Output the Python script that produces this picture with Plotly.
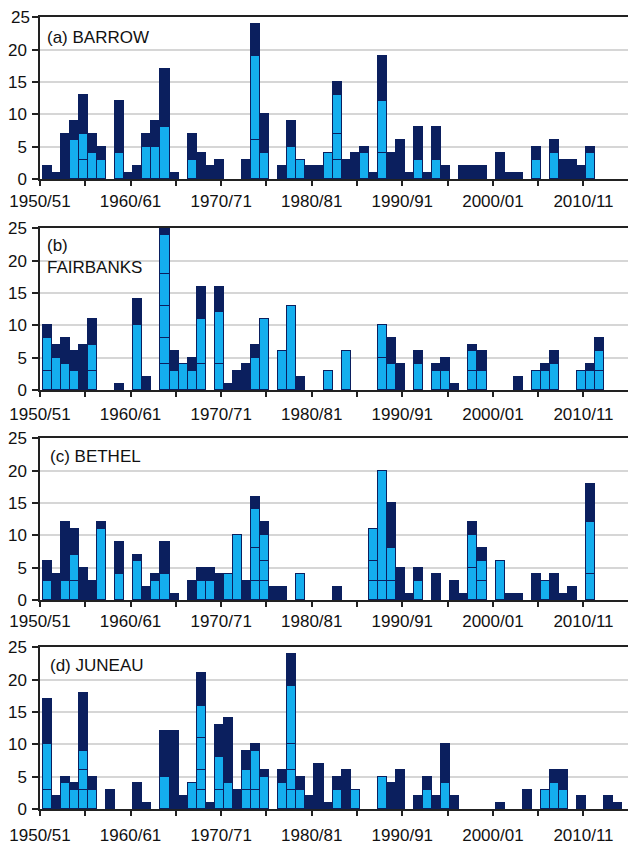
import plotly.graph_objects as go

years = list(range(1950, 2016))

# ---- data: total events per season, and light-blue sub-segments (stacked from bottom)
barrow_total = [2, 1, 7, 9, 13, 7, 5, 0, 12, 1,
                2, 7, 9, 17, 1, 0, 7, 4, 2, 3,
                0, 0, 3, 24, 10, 0, 2, 9, 3, 2,
                2, 4, 15, 3, 4, 5, 1, 19, 4, 6,
                1, 8, 1, 8, 2, 0, 2, 2, 2, 0,
                4, 1, 1, 0, 5, 0, 6, 3, 3, 2,
                5, 0, 0, 0, 0, 0]
barrow_light = {1953: [6], 1954: [3, 4], 1955: [4], 1956: [3], 1958: [4], 1961: [5],
                1962: [5], 1963: [8], 1966: [3], 1973: [6, 13], 1974: [4], 1977: [5],
                1978: [3], 1981: [4], 1982: [3, 4, 6], 1985: [4], 1987: [4, 8],
                1991: [3], 1993: [3], 2004: [3], 2006: [4], 2010: [4]}

fairbanks_total = [10, 7, 8, 6, 7, 11, 0, 0, 1, 0,
                   14, 2, 0, 25, 6, 4, 5, 16, 0, 16,
                   1, 3, 4, 7, 11, 0, 6, 13, 2, 0,
                   0, 3, 0, 6, 0, 0, 0, 10, 8, 4,
                   0, 6, 0, 4, 5, 1, 0, 7, 6, 0,
                   0, 0, 2, 0, 3, 4, 6, 0, 0, 3,
                   4, 8, 0, 0, 0, 0]
fairbanks_light = {1950: [3, 5], 1951: [5], 1952: [4], 1953: [3], 1955: [3, 4], 1960: [10],
                   1963: [4, 4, 5, 5, 6], 1964: [3], 1965: [4], 1966: [3], 1967: [4, 7],
                   1969: [4, 8], 1973: [5], 1974: [11], 1976: [6], 1977: [13], 1981: [3],
                   1983: [6], 1987: [5, 5], 1988: [4], 1991: [4], 1993: [3], 1994: [3],
                   1997: [3, 3], 1998: [3], 2004: [3], 2005: [3], 2006: [4], 2009: [3],
                   2010: [3], 2011: [3, 3]}

bethel_total = [6, 4, 12, 11, 5, 3, 12, 0, 9, 0,
                7, 2, 4, 9, 1, 0, 3, 5, 5, 4,
                4, 10, 3, 16, 12, 2, 2, 0, 4, 0,
                0, 0, 2, 0, 0, 0, 11, 20, 15, 5,
                1, 5, 0, 4, 0, 3, 1, 12, 8, 0,
                6, 1, 1, 0, 4, 3, 4, 1, 2, 0,
                18, 0, 0, 0, 0, 0]
bethel_light = {1950: [3], 1952: [3], 1953: [3, 4], 1956: [11], 1958: [4], 1960: [6],
                1962: [3], 1963: [4], 1967: [3], 1968: [3], 1970: [4], 1971: [10],
                1973: [3, 5, 6], 1974: [3, 3, 4], 1978: [4], 1986: [3, 3, 5],
                1987: [3, 17], 1988: [3, 5], 1991: [3], 1997: [5, 5], 1998: [3, 3],
                2000: [6], 2005: [3], 2010: [4, 8]}

juneau_total = [17, 2, 5, 4, 18, 5, 0, 3, 0, 0,
                4, 1, 0, 12, 12, 2, 4, 21, 1, 13,
                14, 3, 9, 10, 6, 0, 6, 24, 5, 2,
                7, 1, 5, 6, 3, 0, 0, 5, 4, 6,
                0, 2, 5, 2, 10, 2, 0, 0, 0, 0,
                1, 0, 0, 3, 0, 3, 6, 6, 0, 2,
                0, 0, 2, 1, 0, 0]
juneau_light = {1950: [3, 7], 1952: [4], 1953: [3], 1954: [3, 3, 3], 1955: [3], 1963: [5],
                1966: [4], 1967: [3, 3, 5, 5], 1969: [3, 5], 1970: [4], 1972: [3, 3],
                1973: [3, 6], 1974: [5], 1976: [4], 1977: [3, 3, 4, 9], 1978: [3],
                1982: [3], 1984: [3], 1987: [5], 1992: [3], 1994: [4], 2005: [3],
                2006: [4], 2007: [3]}

stations = [("(a) BARROW", barrow_total, barrow_light),
            ("(b)<br>FAIRBANKS", fairbanks_total, fairbanks_light),
            ("(c) BETHEL", bethel_total, bethel_light),
            ("(d) JUNEAU", juneau_total, juneau_light)]

tick_years = list(range(1950, 2016, 5))
tick_labels = [f"{y}/{str(y + 1)[-2:]}" if y % 10 == 0 else "" for y in tick_years]
y_ticks = [0, 5, 10, 15, 20, 25]

NAVY = "#0b1f5e"
LIGHT = "#14aeee"
FONT = "Liberation Sans, Arial, sans-serif"

# page body has an 8px margin, so figure coordinates are offset by 8px
OFF = 8
W, H = 636 - OFF, 845 - OFF
panel_px = [(17, 179), (228, 390), (438, 600), (647, 809)]
standoffs = [1, 3, 0, 5]

fig = go.Figure()
xc = [y + 0.5 for y in years]

for i, (name, total, light) in enumerate(stations):
    xa = "x" if i == 0 else f"x{i+1}"
    ya = "y" if i == 0 else f"y{i+1}"
    nseg = max(len(v) for v in light.values())
    for k in range(nseg):
        vals = []
        for y in years:
            segs = light.get(y, [])
            vals.append(segs[k] if k < len(segs) else None)
        fig.add_trace(go.Bar(x=xc, y=vals, width=1, xaxis=xa, yaxis=ya,
                             marker=dict(color=LIGHT, line=dict(color=NAVY, width=1)),
                             showlegend=False, hoverinfo="skip"))
    rem = []
    for y, t in zip(years, total):
        r = t - sum(light.get(y, []))
        rem.append(r if r > 0 else None)
    fig.add_trace(go.Bar(x=xc, y=rem, width=1, xaxis=xa, yaxis=ya,
                         marker=dict(color=NAVY, line=dict(color=NAVY, width=1)),
                         showlegend=False, hoverinfo="skip"))

    top, bot = panel_px[i]
    top -= OFF
    bot -= OFF
    dom = [1 - bot / H, 1 - top / H]
    xkey = "xaxis" if i == 0 else f"xaxis{i+1}"
    ykey = "yaxis" if i == 0 else f"yaxis{i+1}"
    # the top-most "25" label sits at the page edge where plotly drops it; draw it as an annotation
    ytext = [str(v) for v in y_ticks]
    if i == 0:
        ytext[-1] = ""
        fig.add_annotation(text=str(y_ticks[-1]), xref=f"{xa} domain", yref=ya,
                           x=0, y=y_ticks[-1], xshift=-8, xanchor="right",
                           yanchor="middle", showarrow=False,
                           font=dict(family=FONT, size=17, color="#111"))
    fig.update_layout(**{
        xkey: dict(domain=[0, 1], anchor=ya, range=[1949.7, 2015.5],
                   tickvals=[t - 0.3 for t in tick_years], ticktext=tick_labels,
                   ticks="outside", ticklen=5, tickwidth=1.5, tickcolor="#222",
                   showline=True, linecolor="#222", linewidth=1.5, mirror=True,
                   showgrid=False, zeroline=False, automargin=False,
                   ticklabelstandoff=standoffs[i], ticklabeloverflow="allow",
                   tickfont=dict(family=FONT, size=17, color="#111")),
        ykey: dict(domain=dom, anchor=xa, range=[0, 25.05], tickvals=y_ticks,
                   ticktext=ytext,
                   ticks="outside", ticklen=6, tickwidth=1.5, tickcolor="#222",
                   showline=True, linecolor="#222", linewidth=1.5,
                   showgrid=True, gridcolor="#d6d6d6", gridwidth=1.5,
                   zeroline=False, automargin=False, ticklabelstandoff=2,
                   ticklabeloverflow="allow",
                   tickfont=dict(family=FONT, size=17, color="#111")),
    })
    fig.add_annotation(text=name, xref=f"{xa} domain", yref=f"{ya} domain",
                       x=0.008 if i < 2 else 0.014, y=0.945 if i == 0 else (0.965 if i == 1 else 0.955),
                       xanchor="left", yanchor="top", showarrow=False, align="left",
                       font=dict(family=FONT, size=17, color="#111"))

fig.update_layout(width=W, height=H, barmode="stack", bargap=0,
                  margin=dict(l=40 - OFF, r=0, t=0, b=0),
                  paper_bgcolor="white", plot_bgcolor="white", showlegend=False)

fig.write_html("out.html")
